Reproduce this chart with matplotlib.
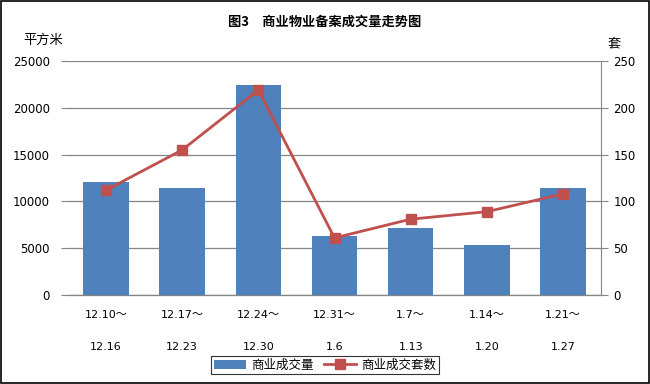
import matplotlib
matplotlib.use('Agg')
import matplotlib.pyplot as plt
from matplotlib.patches import Rectangle

plt.rcParams['font.family'] = ['Noto Sans CJK SC', 'DejaVu Sans']

weeks = ['12.10～\n\n12.16', '12.17～\n\n12.23', '12.24～\n\n12.30', '12.31～\n\n1.6',
         '1.7～\n\n1.13', '1.14～\n\n1.20', '1.21～\n\n1.27']
area = [12100, 11400, 22400, 6300, 7200, 5300, 11400]
units = [112, 155, 219, 61, 81, 89, 108]

bar_color = '#4F81BD'
line_color = '#C0504D'
grid_color = '#868686'

fig = plt.figure(figsize=(6.5, 3.84), dpi=100)
ax1 = fig.add_axes([68 / 650, 1 - 295 / 384, 533 / 650, 234 / 384])
ax2 = ax1.twinx()

x = list(range(len(weeks)))
ax1.bar(x, area, width=0.6, color=bar_color, zorder=2, label='商业成交量')
ax2.plot(x, units, color=line_color, lw=2, marker='s', ms=7, zorder=3,
         label='商业成交套数')

ax1.set_xlim(-0.5, len(weeks) - 0.5)
ax1.set_ylim(0, 25000)
ax2.set_ylim(0, 250)
ax1.set_yticks(range(0, 25001, 5000))
ax2.set_yticks(range(0, 251, 50))
ax1.yaxis.grid(True, color=grid_color, lw=0.9, zorder=0)
ax1.axhline(0, color=grid_color, lw=0.9, clip_on=False, zorder=1)
ax1.set_axisbelow(True)

for a in (ax1, ax2):
    for s in ('top', 'left', 'bottom'):
        a.spines[s].set_visible(False)
ax1.spines['right'].set_visible(False)
ax2.spines['right'].set_color(grid_color)

num_font = ['DejaVu Sans', 'Noto Sans CJK SC']
ax1.set_xticks(x)
ax1.set_xticklabels(weeks, fontsize=8, linespacing=1.75)
ax1.tick_params(axis='x', length=0, pad=11)
ax1.tick_params(axis='y', length=5, color=grid_color, labelsize=8.5, pad=8)
ax2.tick_params(axis='y', length=5, color=grid_color, labelsize=8.5, pad=4)
for lbl in ax1.get_yticklabels() + ax2.get_yticklabels() + ax1.get_xticklabels():
    lbl.set_family(num_font)

fig.text(0.5, 1 - 22 / 384, '图3　商业物业备案成交量走势图', ha='center', va='center',
         fontsize=9.5, fontweight='bold')
fig.text(43 / 650, 1 - 40 / 384, '平方米', ha='center', va='center', fontsize=9.5)
fig.text(614 / 650, 1 - 44 / 384, '套', ha='center', va='center', fontsize=9.5)

h1, l1 = ax1.get_legend_handles_labels()
h2, l2 = ax2.get_legend_handles_labels()
leg = fig.legend(h1 + h2, l1 + l2, loc='center', bbox_to_anchor=(0.5, 1 - 365 / 384),
                 ncol=2, fontsize=9, frameon=True, fancybox=False, edgecolor='black',
                 handlelength=2.6, columnspacing=0.8, handletextpad=0.4,
                 borderpad=0.2)
leg.get_frame().set_linewidth(0.8)

fig.patches.append(Rectangle((0.002, 0.003), 0.996, 0.994, transform=fig.transFigure,
                             fill=False, edgecolor='black', lw=1.2))

fig.savefig('out.png', dpi=100)
